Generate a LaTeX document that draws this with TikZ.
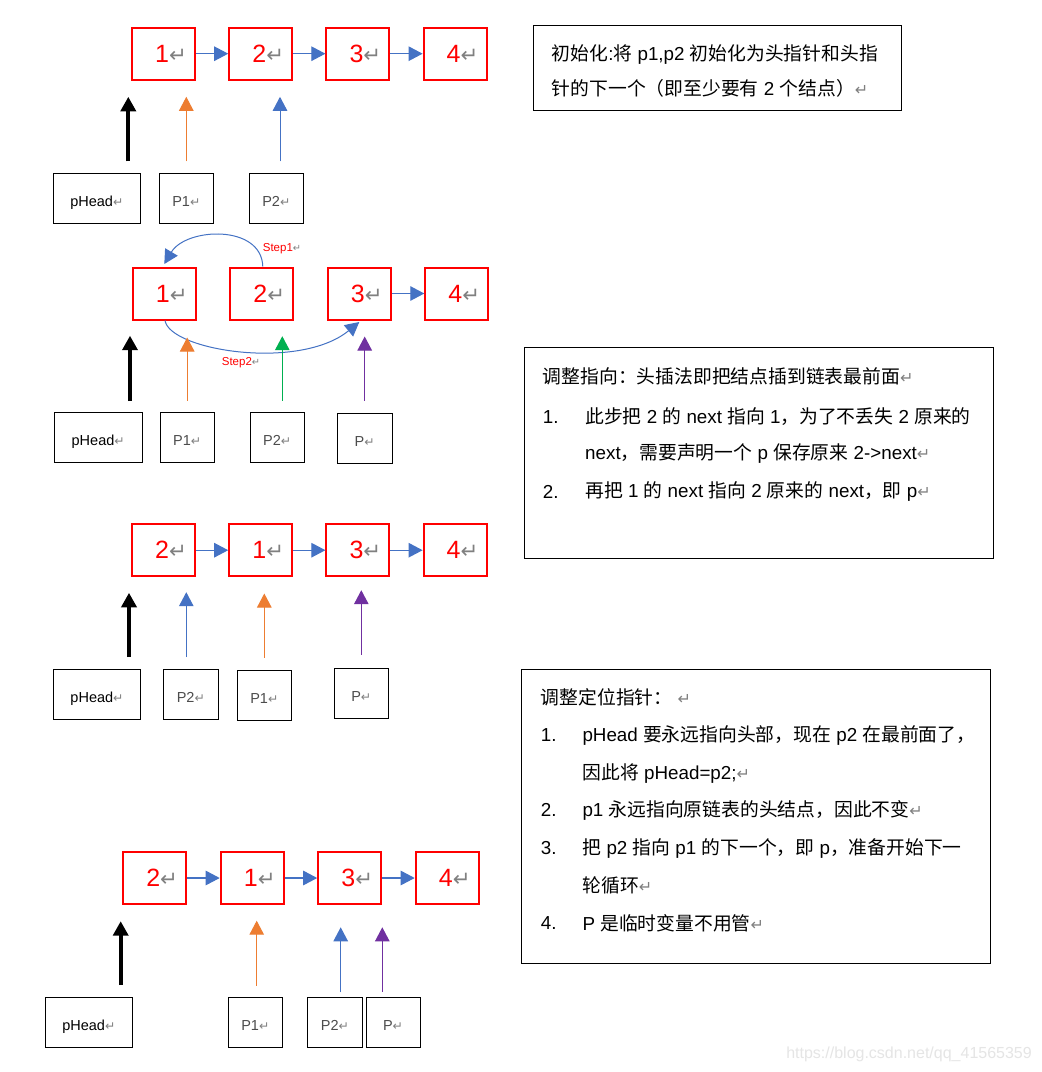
\documentclass[tikz,border=0pt]{standalone}
\usepackage{fontspec}
\usepackage{graphicx}
\setmainfont{Liberation Sans}
\newfontfamily\cjk{Noto Sans CJK SC}
\newfontfamily\symfont{DejaVu Sans}
\usetikzlibrary{arrows.meta}
\definecolor{linkblue}{HTML}{4472C4}
\definecolor{ptrorange}{HTML}{ED7D31}
\definecolor{ptrgreen}{HTML}{00B050}
\definecolor{ptrpurple}{HTML}{7030A0}
\definecolor{retgray}{HTML}{808080}
\newcommand\ret{{\color{retgray}\symfont\scalebox{0.85}{↵}}}
\newcommand\zh[1]{{\cjk #1}}
\tikzset{
  >={Triangle[length=14pt,width=14.5pt]},
  listnode/.style={draw=red, line width=2pt, text=red, minimum width=63pt, minimum height=52pt,
    inner sep=0pt, font=\fontsize{25}{25}\selectfont, execute at begin node={\hspace*{15pt}}},
  ptrbox/.style={draw, line width=1pt, minimum height=50pt, inner sep=0pt, text height=16pt, text depth=0pt,
    font=\fontsize{14.5}{14.5}\selectfont},
  ptrname/.style={ptrbox, text=black!70},
  link/.style={->, draw=linkblue, line width=1.1pt},
  ptr/.style={->, line width=1pt},
  headptr/.style={-{Triangle[length=14.5pt,width=15pt]}, line width=4pt},
  notebox/.style={draw, line width=1pt, inner sep=0pt},
  noteline/.style={anchor=west, inner sep=0pt, font=\fontsize{18.8}{18.8}\selectfont},
  steplabel/.style={text=red, inner sep=0pt, font=\fontsize{11.5}{11.5}\selectfont}
}

\begin{document}
\begin{tikzpicture}[x=1pt,y=1pt]

    % page
    \path[fill=white, use as bounding box] (0,0) rectangle (1042,-1072);

    % Row 1: initial list
    \foreach \lab [count=\i] in {1,2,3,4}
        \node[listnode] (a\i) at ({163.5+97.2*(\i-1)},-53.7) {\lab\ret};
    \foreach \i/\j in {1/2,2/3,3/4}
        \draw[link] (a\i) -- (a\j);

    \node[ptrbox, minimum width=87pt] (head1) at (96.8,-198.3) {pHead\ret};
    \node[ptrname, minimum width=54pt] (pone1) at (186.3,-198.3) {P1\ret};
    \node[ptrname, minimum width=54pt] (ptwo1) at (276.3,-198.3) {P2\ret};

    \draw[headptr] ([xshift=31.5pt,yshift=11.5pt]head1.north) -- ++(0,64.5);
    \draw[ptr, ptrorange] ([yshift=11.5pt]pone1.north) -- ++(0,64.5);
    \draw[ptr, linkblue] ([xshift=3.7pt,yshift=11.5pt]ptwo1.north) -- ++(0,64.5);

    % Row 2: re-point 2 -> 1 and 1 -> 3
    \foreach \lab [count=\i] in {1,2,3,4}
        \node[listnode] (b\i) at ({164.3+97.5*(\i-1)},-293.5) {\lab\ret};
    \draw[link] (b3) -- (b4);

    \draw[link, line width=1pt] ([xshift=1pt]b2.north) .. controls +(-1.3,42.5) and +(21.7,36.5) .. ([yshift=2.5pt]b1.north);
    \node[steplabel] (step1) at (282,-248.3) {Step1\ret};
    \draw[link, line width=1pt] ([xshift=0.7pt]b1.south) .. controls +(5,-30) and +(-60,-49) .. ([yshift=-1.5pt]b3.south);
    \node[steplabel] (step2) at (241,-362.7) {Step2\ret};

    \node[ptrbox, minimum width=88pt] (head2) at (98.2,-437.3) {pHead\ret};
    \node[ptrname, minimum width=54pt] (pone2) at (187.2,-437.8) {P1\ret};
    \node[ptrname, minimum width=54pt] (ptwo2) at (277.2,-437.3) {P2\ret};
    \node[ptrname, minimum width=55pt] (ptmp2) at (364.7,-438.8) {P\ret};

    \draw[headptr] ([xshift=31.8pt,yshift=10.6pt]head2.north) -- ++(0,65.5);
    \draw[ptr, ptrorange] ([yshift=11.8pt]pone2.north) -- ++(0,63);
    \draw[ptr, ptrgreen] ([xshift=5.1pt,yshift=11.3pt]ptwo2.north) -- ++(0,64.3);
    \draw[ptr, ptrpurple] ([yshift=12.8pt]ptmp2.north) -- ++(0,64);

    % Row 3: after the swap
    \foreach \lab [count=\i] in {2,1,3,4}
        \node[listnode] (c\i) at ({163.5+97.2*(\i-1)},-550.2) {\lab\ret};
    \foreach \i/\j in {1/2,2/3,3/4}
        \draw[link] (c\i) -- (c\j);

    \node[ptrbox, minimum width=87pt] (head3) at (97,-694.3) {pHead\ret};
    \node[ptrname, minimum width=55pt] (ptwo3) at (190.8,-694.3) {P2\ret};
    \node[ptrname, minimum width=54pt] (pone3) at (264.3,-695.3) {P1\ret};
    \node[ptrname, minimum width=54pt] (ptmp3) at (361.3,-693.3) {P\ret};

    \draw[headptr] ([xshift=32pt,yshift=11.6pt]head3.north) -- ++(0,64.4);
    \draw[ptr, linkblue] ([xshift=-4.5pt,yshift=11.6pt]ptwo3.north) -- ++(0,65);
    \draw[ptr, ptrorange] ([yshift=12.3pt]pone3.north) -- ++(0,64);
    \draw[ptr, ptrpurple] ([yshift=13.3pt]ptmp3.north) -- ++(0,64.3);

    % Row 4: pointers moved on
    \foreach \lab [count=\i] in {2,1,3,4}
        \node[listnode] (d\i) at ({154.7+97.5*(\i-1)},-878) {\lab\ret};
    \foreach \i/\j in {1/2,2/3,3/4}
        \draw[link] (d\i) -- (d\j);

    \node[ptrbox, minimum width=87pt] (head4) at (88.8,-1022.3) {pHead\ret};
    \node[ptrname, minimum width=54pt] (pone4) at (255.3,-1022.8) {P1\ret};
    \node[ptrname, minimum width=55pt] (ptwo4) at (335,-1022.8) {P2\ret};
    \node[ptrname, minimum width=54pt] (ptmp4) at (393,-1022.8) {P\ret};

    \draw[headptr] ([xshift=31.9pt,yshift=11.6pt]head4.north) -- ++(0,64);
    \draw[ptr, ptrorange] ([xshift=1.4pt,yshift=11.6pt]pone4.north) -- ++(0,65);
    \draw[ptr, linkblue] ([xshift=5.7pt,yshift=5pt]ptwo4.north) -- ++(0,65);
    \draw[ptr, ptrpurple] ([xshift=-10.7pt,yshift=5.6pt]ptmp4.north) -- ++(0,64.4);

    % Notes
    \node[notebox, minimum width=367.7pt, minimum height=84.7pt] (note1) at (717.2,-68.3) {};
    \node[noteline] (note1a) at (551.7,-55) {\zh{初始化}:\zh{将} p1,p2 \zh{初始化为头指针和头指}};
    \node[noteline] (note1b) at (551.7,-88) {\zh{针的下一个（即至少要有} 2 \zh{个结点）}\ret};

    \node[notebox, minimum width=469.3pt, minimum height=211pt] (note2) at (758.7,-452.8) {};
    \node[noteline] (note2a) at (542.7,-376) {\zh{调整指向：头插法即把结点插到链表最前面}\ret};
    \node[noteline] (note2n1) at (542.7,-416.7) {1.};
    \node[noteline] (note2b) at (585,-416.7) {\zh{此步把} 2 \zh{的} next \zh{指向} 1\zh{，为了不丢失} 2 \zh{原来的}};
    \node[noteline] (note2c) at (585,-453.3) {next\zh{，需要声明一个} p \zh{保存原来} 2->next\ret};
    \node[noteline] (note2n2) at (542.7,-491.7) {2.};
    \node[noteline] (note2d) at (585,-491.7) {\zh{再把} 1 \zh{的} next \zh{指向} 2 \zh{原来的} next\zh{，即} p\ret};

    \node[notebox, minimum width=469pt, minimum height=294pt] (note3) at (756.2,-816.3) {};
    \node[noteline] (note3a) at (540.7,-697.3) {\zh{调整定位指针：} \ret};
    \node[noteline] (note3n1) at (540.7,-735) {1.};
    \node[noteline] (note3b) at (582.3,-735) {pHead \zh{要永远指向头部，现在} p2 \zh{在最前面了，}};
    \node[noteline] (note3c) at (582.3,-773.3) {\zh{因此将} pHead=p2;\ret};
    \node[noteline] (note3n2) at (540.7,-810) {2.};
    \node[noteline] (note3d) at (582.3,-810) {p1 \zh{永远指向原链表的头结点，因此不变}\ret};
    \node[noteline] (note3n3) at (540.7,-848.3) {3.};
    \node[noteline] (note3e) at (582.3,-848.3) {\zh{把} p2 \zh{指向} p1 \zh{的下一个，即} p\zh{，准备开始下一}};
    \node[noteline] (note3f) at (582.3,-885) {\zh{轮循环}\ret};
    \node[noteline] (note3n4) at (540.7,-923.3) {4.};
    \node[noteline] (note3g) at (582.3,-923.3) {P \zh{是临时变量不用管}\ret};

    % watermark
    \node[anchor=east, inner sep=0pt, text=black!10, font=\fontsize{16}{16}\selectfont] (mark) at (1032,-1054) {https://blog.csdn.net/qq\_41565359};

\end{tikzpicture}
\end{document}
